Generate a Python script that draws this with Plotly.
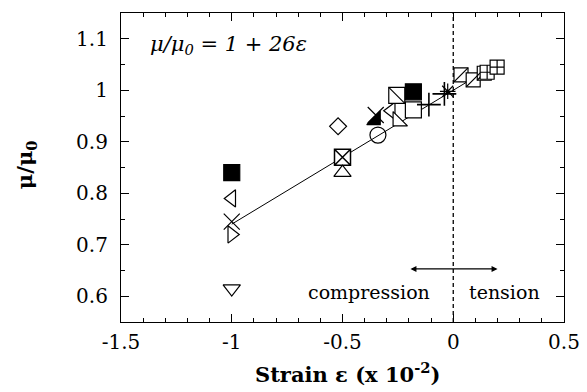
import plotly.graph_objects as go

# ---- data ----
strain_filled_square = [-1.0, -0.18]
mu_filled_square = [0.84, 0.997]
strain_open_square = [-0.18]
mu_open_square = [0.962]
strain_tri_left = [-1.0, -0.28]
mu_tri_left = [0.79, 0.96]
strain_cross_x = [-1.0, -0.35]
mu_cross_x = [0.745, 0.952]
strain_tri_right = [-1.0]
mu_tri_right = [0.72]
strain_tri_down = [-1.0]
mu_tri_down = [0.615]
strain_diamond = [-0.52]
mu_diamond = [0.93]
strain_square_x = [-0.5]
mu_square_x = [0.87]
strain_tri_up = [-0.5]
mu_tri_up = [0.84]
strain_filled_tri = [-0.35]
mu_filled_tri = [0.942]
strain_circle = [-0.34]
mu_circle = [0.913]
strain_square_diag = [-0.255]
mu_square_diag = [0.99]
strain_tri_sw = [-0.25]
mu_tri_sw = [0.94]
strain_plus = [-0.11, -0.04]
mu_plus = [0.972, 0.993]
strain_star = [-0.025]
mu_star = [0.998]
strain_hatched = [0.035, 0.09, 0.14]
mu_hatched = [1.03, 1.02, 1.033]
strain_grid = [0.153, 0.198]
mu_grid = [1.035, 1.045]

fit_strain = [-1.0, 0.2]
fit_slope = 0.26  # mu/mu0 = 1 + 26 eps  (eps in 1e-2 units -> 0.26 per unit)
fit_mu = [1 + fit_slope * s for s in fit_strain]

x_ticks = [-1.5, -1, -0.5, 0, 0.5]
x_tick_text = ["-1.5", "-1", "-0.5", "0", "0.5"]
y_ticks = [0.6, 0.7, 0.8, 0.9, 1.0, 1.1]
y_tick_text = ["0.6", "0.7", "0.8", "0.9", "1", "1.1"]

SERIF = "DejaVu Serif"

fig = go.Figure()

# fit line
fig.add_trace(go.Scatter(x=fit_strain, y=fit_mu, mode="lines",
                         line=dict(color="black", width=1), hoverinfo="skip"))

def mk(x, y, symbol, size=15, filled=False, lw=1.2):
    is_open = symbol.endswith("-open")
    fig.add_trace(go.Scatter(
        x=x, y=y, mode="markers",
        marker=dict(symbol=symbol, size=size,
                    color="black" if (filled or is_open) else "white",
                    line=dict(color="black", width=lw))))

mk(strain_filled_square, mu_filled_square, "square", 16, filled=True)
mk(strain_open_square, mu_open_square, "square", 16)
mk(strain_tri_left, mu_tri_left, "triangle-left", 15)
mk(strain_tri_right, mu_tri_right, "triangle-right", 15)
mk(strain_tri_down, mu_tri_down, "triangle-down", 15)
mk(strain_diamond, mu_diamond, "diamond", 13)
mk(strain_square_x, mu_square_x, "square-x", 16, lw=1.5)
mk(strain_tri_up, mu_tri_up, "triangle-up", 15)
mk(strain_circle, mu_circle, "circle-open", 16)
mk(strain_square_diag, mu_square_diag, "square", 16)
mk(strain_square_diag, mu_square_diag, "line-nw-open", 16)
mk(strain_tri_sw, mu_tri_sw, "triangle-sw", 16)
mk(strain_filled_tri, mu_filled_tri, "triangle-se", 15, filled=True)
mk(strain_cross_x, mu_cross_x, "x-thin-open", 16)
mk(strain_plus, mu_plus, "cross-thin-open", 17, lw=1.6)
mk(strain_star, mu_star, "asterisk-open", 13)
mk(strain_hatched, mu_hatched, "square", 14)
mk(strain_hatched, mu_hatched, "line-ne-open", 14)
mk(strain_grid, mu_grid, "square-cross", 14)

axis_common = dict(
    showline=True, linecolor="black", linewidth=1.2, mirror="ticks",
    ticks="inside", ticklen=8, tickwidth=1, tickcolor="black",
    showgrid=False, zeroline=False, automargin=False,
    tickfont=dict(family=SERIF, size=20, color="black"),
)

fig.update_xaxes(range=[-1.5, 0.5], tickvals=x_ticks, ticktext=x_tick_text,
                 ticklabelstandoff=2,
                 minor=dict(ticks="inside", dtick=0.1, ticklen=4, tickcolor="black"),
                 **axis_common)
fig.update_yaxes(range=[0.55, 1.15], tickvals=y_ticks, ticktext=y_tick_text,
                 ticklabelstandoff=8,
                 minor=dict(ticks="inside", dtick=0.05, ticklen=4, tickcolor="black"),
                 **axis_common)

# axis titles
fig.add_annotation(x=0.511, y=-0.218, xref="paper", yref="paper",
                   text="<b>Strain ε (x 10<sup>-2</sup>)</b>", showarrow=False,
                   font=dict(family=SERIF, size=21, color="black"))
fig.add_annotation(x=-0.25, y=0.51, xref="paper", yref="paper",
                   text="<b>μ/μ<sub>0</sub></b>", textangle=-90, showarrow=False,
                   font=dict(family=SERIF, size=21, color="black"))

# dashed vertical line at zero strain
fig.add_shape(type="line", x0=0, x1=0, y0=0.55, y1=1.15, xref="x", yref="y",
              line=dict(color="black", width=1.3, dash="4px,3px"), layer="below")

# compression / tension double arrow
fig.add_annotation(x=0.2, y=0.653, ax=-0.2, ay=0.653, xref="x", yref="y",
                   axref="x", ayref="y", text="", showarrow=True,
                   arrowhead=2, startarrowhead=2, arrowside="end+start",
                   arrowwidth=1.2, arrowsize=1, arrowcolor="black")
fig.add_annotation(x=-0.38, y=0.608, text="compression", showarrow=False,
                   font=dict(family=SERIF, size=19, color="black"))
fig.add_annotation(x=0.233, y=0.608, text="tension", showarrow=False,
                   font=dict(family=SERIF, size=19, color="black"))
fig.add_annotation(x=-1.378, y=1.088, text="<i>μ/μ<sub>0</sub> = 1 + 26ε</i>",
                   showarrow=False, xanchor="left",
                   font=dict(family=SERIF, size=21, color="black"))

fig.update_layout(width=587, height=392, showlegend=False,
                  margin=dict(l=121, r=23, t=13, b=70),
                  plot_bgcolor="white", paper_bgcolor="white")

fig.write_html("out.html", config={"displayModeBar": False},
               post_script="document.body.style.margin='0';")
